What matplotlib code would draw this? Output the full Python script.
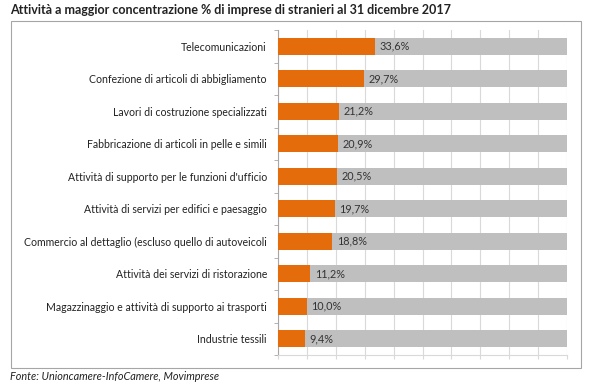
import matplotlib.pyplot as plt
from matplotlib.patches import Rectangle
import numpy as np

categorie = [
    "Telecomunicazioni",
    "Confezione di articoli di abbigliamento",
    "Lavori di costruzione specializzati",
    "Fabbricazione di articoli in pelle e simili",
    "Attività di supporto per le funzioni d'ufficio",
    "Attività di servizi per edifici e paesaggio",
    "Commercio al dettaglio (escluso quello di autoveicoli",
    "Attività dei servizi di ristorazione",
    "Magazzinaggio e attività di supporto ai trasporti",
    "Industrie tessili",
]
quote = [33.6, 29.7, 21.2, 20.9, 20.5, 19.7, 18.8, 11.2, 10.0, 9.4]
totale = 100

plt.rcParams['font.family'] = ['Lato', 'DejaVu Sans']

fig = plt.figure(figsize=(6, 3.86), dpi=100)
ax = fig.add_axes([278 / 600, 1 - 355 / 386, (567 - 278) / 600, (355 - 30) / 386])

y = np.arange(len(categorie))
resto = [totale - q for q in quote]
ax.barh(y, quote, height=0.52, color='#E46C0A', zorder=3)
ax.barh(y, resto, left=quote, height=0.52, color='#BFBFBF', zorder=3)

# etichette dei valori
for yi, q in zip(y, quote):
    ax.text(q + 1.5, yi, f"{q:.1f}%".replace('.', ','), va='center', ha='left',
            fontsize=7.8, color='#333333', zorder=4)

ax.set_xlim(0, totale)
ax.set_ylim(len(categorie) - 0.5, -0.5)
ax.set_yticks(y)
ax.set_yticklabels(categorie, fontsize=7.6, color='#222222')
ax.set_yticks(np.arange(len(categorie) + 1) - 0.5, minor=True)
ax.tick_params(axis='y', which='major', length=0, pad=8)
ax.tick_params(axis='y', which='minor', length=3, color='#A6A6A6')
ax.set_xticks(np.arange(0, 101, 10))
ax.tick_params(axis='x', length=3, color='#D9D9D9', labelbottom=False)
ax.grid(axis='x', color='#D9D9D9', linewidth=0.8, zorder=0)
for s in ['top', 'right']:
    ax.spines[s].set_visible(False)
ax.spines['left'].set_color('#A6A6A6')
ax.spines['bottom'].set_color('#D9D9D9')

# cornice
fig.patches.append(Rectangle((11 / 600, 1 - 368 / 386), (581 - 11) / 600, (368 - 21) / 386,
                             transform=fig.transFigure, fill=False, edgecolor='#A6A6A6',
                             linewidth=0.8))

fig.text(10 / 600, 1 - 10 / 386, "Attività a maggior concentrazione % di imprese di stranieri al 31 dicembre 2017",
         fontsize=9, fontweight='bold', color='#222222', va='center', ha='left')
fig.text(10 / 600, 1 - 376 / 386, "Fonte: Unioncamere-InfoCamere, Movimprese",
         fontsize=7.8, style='italic', color='#222222', va='center', ha='left')

fig.savefig('out.png', dpi=100)
